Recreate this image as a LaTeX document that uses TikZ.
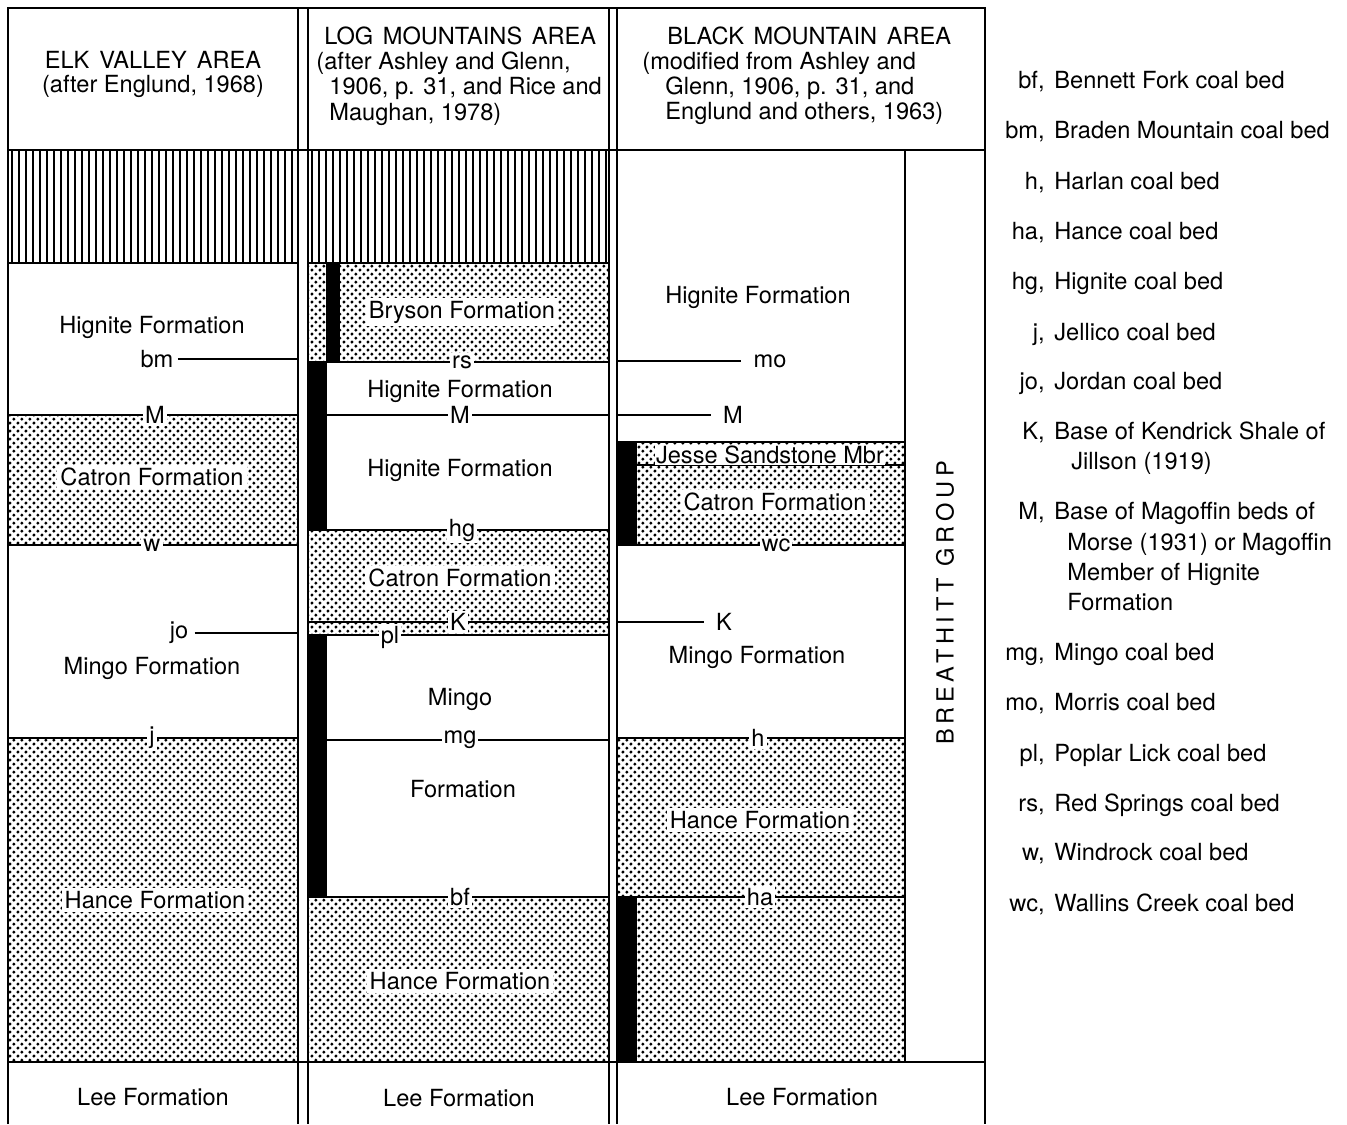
\documentclass[tikz,border=0pt]{standalone}
\usepackage{fontspec}
\setmainfont{TeX Gyre Heros}
\usetikzlibrary{patterns,positioning}
\pgfdeclarepatternformonly{stipple}{\pgfpointorigin}{\pgfpoint{4.2pt}{4.2pt}}{\pgfpoint{4.2pt}{4.2pt}}{
 \pgfpathcircle{\pgfpoint{1.05pt}{1.05pt}}{0.9pt}
 \pgfpathcircle{\pgfpoint{3.15pt}{3.15pt}}{0.9pt}
 \pgfusepath{fill}}
\tikzset{every node/.style={font=\fontsize{11.8}{15}\selectfont},frame/.style={line width=1pt},
 contact/.style={line width=1.2pt},coal/.style={line width=0.8pt},
 unit/.style={fill=white,inner sep=1.5pt},bed/.style={fill=white,inner sep=1pt},
 head/.style={anchor=base west,inner sep=0pt},key/.style={anchor=base east,inner sep=0pt},
 keytext/.style={anchor=base west,inner sep=0pt}}
\begin{document}
\begin{tikzpicture}[x=0.5pt,y=-0.5pt]
\useasboundingbox (0,0) rectangle (1347,1124);
\coordinate (c1r) at (298,0);\coordinate (c3l) at (617,0);
% sandstone (stipple) and coal (black)
\foreach \xa/\ya/\xb/\yb in {8/415/298/545,8/738/298/1062,308/263/609/362,308/530/609/635,
 308/897/609/1062,617/442/905/545,617/738/905/1062}
 \fill[pattern=stipple] (\xa,\ya) rectangle (\xb,\yb);
\foreach \xa/\ya/\xb/\yb in {326/263/340/362,308/362/327/530,308/635/327/897,617/442/637/545,617/897/637/1062}
 \fill (\xa,\ya) rectangle (\xb,\yb);
\foreach \x in {12,19,...,296} \draw[line width=1.2pt] (\x,150)--(\x,263);
\foreach \x in {312,319,...,607} \draw[line width=1.2pt] (\x,150)--(\x,263);
% frame
\draw[frame] (8,1124)--(8,8)--(985,8)--(985,1124);
\foreach \x in {298,308,609,617} \draw[frame] (\x,8)--(\x,1124);
\draw[frame] (8,150)--(985,150);
\draw[frame] (8,1062)--(985,1062);
\draw[frame] (905,150)--(905,1062);
\foreach \xa/\xb/\y in {8/298/263,8/298/415,8/298/545,8/298/738,308/609/263,308/609/362,327/609/415,
 308/609/530,308/609/622,308/609/635,327/609/740,308/609/897,617/905/442,617/905/465,617/905/545,
 617/905/738,617/905/897}
 \draw[contact] (\xa,\y)--(\xb,\y);
% headers
\node (h1a) at (153,60) {ELK\hspace{5pt}VALLEY\hspace{5pt}AREA};
\node (h1b) at (153,86) {(after Englund, 1968)};
\node[head] (h2a) at (324,44) {LOG\hspace{1.5pt} MOUNTAINS\hspace{1.5pt} AREA};
\node[head] (h2b) at (316,69) {(after Ashley and Glenn,};
\node[head] (h2c) at (329,94) {1906, p. 31, and Rice and};
\node[head] (h2d) at (329,120) {Maughan, 1978)};
\node[head] (h3a) at (667,44) {BLACK\hspace{1.5pt} MOUNTAIN\hspace{1.5pt} AREA};
\node[head] (h3b) at (642,69) {(modified from Ashley and};
\node[head] (h3c) at (665,94) {Glenn, 1906, p. 31, and};
\node[head] (h3d) at (665,119) {Englund and others, 1963)};
% Elk Valley column
\node (ehig) at (152,327) {Hignite Formation};
\node[bed] (ebm) at (157,359) {bm};
\draw[coal] ([xshift=1pt]ebm.east)--(ebm.east-|c1r);
\node[bed] (eM) at (155,415) {M};
\node[unit] (ecat) at (152,477) {Catron Formation};
\node[bed] (ew) at (152,545) {w};
\node[bed] (ejo) at (179,633) {jo};
\draw[coal] ([xshift=2pt]ejo.east)--(ejo.east-|c1r);
\node (emin) at (152,668) {Mingo Formation};
\node[bed] (ej) at (152,738) {j};
\node[unit] (ehan) at (155,900) {Hance Formation};
\node (elee) at (153,1097) {Lee Formation};
% Log Mountains column
\node[unit] (lbry) at (462,312) {Bryson Formation};
\node[bed] (lrs) at (462,362) {rs};
\node (lhig) at (460,391) {Hignite Formation};
\node[bed] (lM) at (460,415) {M};
\node (lhig2) at (460,470) {Hignite Formation};
\node[bed] (lhg) at (462,530) {hg};
\node[unit] (lcat) at (460,578) {Catron Formation};
\node[bed] (lK) at (458,622) {K};
\node[bed] (lpl) at (390,637) {pl};
\node (lmin) at (460,699) {Mingo};
\node[bed] (lmg) at (460,740) {mg};
\node (lfor) at (463,789) {Formation};
\node[bed] (lbf) at (460,897) {bf};
\node[unit] (lhan) at (460,981) {Hance Formation};
\node (llee) at (459,1098) {Lee Formation};
% Black Mountain column
\node (bhig) at (758,297) {Hignite Formation};
\node[bed] (bmo) at (770,361) {mo};
\draw[coal] (bmo.west-|c3l)--([xshift=-5pt]bmo.west);
\node[bed] (bM) at (733,415) {M};
\draw[coal] (bM.west-|c3l)--([xshift=-5pt]bM.west);
\node[unit,inner sep=0.5pt] (bjes) at (770,455) {Jesse Sandstone Mbr};
\node[unit] (bcat) at (775,502) {Catron Formation};
\node[bed] (bwc) at (776,545) {wc};
\node[bed] (bK) at (724,622) {K};
\draw[coal] (bK.west-|c3l)--([xshift=-5pt]bK.west);
\node (bmin) at (757,657) {Mingo Formation};
\node[bed] (bh) at (758,738) {h};
\node[unit] (bhan) at (760,820) {Hance Formation};
\node[bed] (bha) at (760,897) {ha};
\node (blee) at (802,1097) {Lee Formation};
\node[rotate=90] (grp) at (945,603) {\addfontfeature{LetterSpace=20}BREATHITT\hspace{6pt}GROUP};
% explanation
\foreach \k/\t/\y in {bf/Bennett Fork coal bed/88,bm/Braden Mountain coal bed/138,h/Harlan coal bed/189,
 ha/Hance coal bed/239,hg/Hignite coal bed/289,j/Jellico coal bed/340,jo/Jordan coal bed/389,
 K/Base of Kendrick Shale of/439,M/Base of Magoffin beds of/519,mg/Mingo coal bed/660,
 mo/Morris coal bed/710,pl/Poplar Lick coal bed/761,rs/Red Springs coal bed/811,
 w/Windrock coal bed/860,wc/Wallins Creek coal bed/911}{
 \node[key] (k\k) at (1045,\y) {\k,};
 \node[keytext] (t\k) at (1054,\y) {\t};
}
\node[keytext] (tK2) at (1071,469) {Jillson (1919)};
\foreach \t/\y/\n in {Morse (1931) or Magoffin/550/2,Member of Hignite/580/3,Formation/610/4}
 \node[keytext] (tM\n) at (1067,\y) {\t};
\end{tikzpicture}
\end{document}
